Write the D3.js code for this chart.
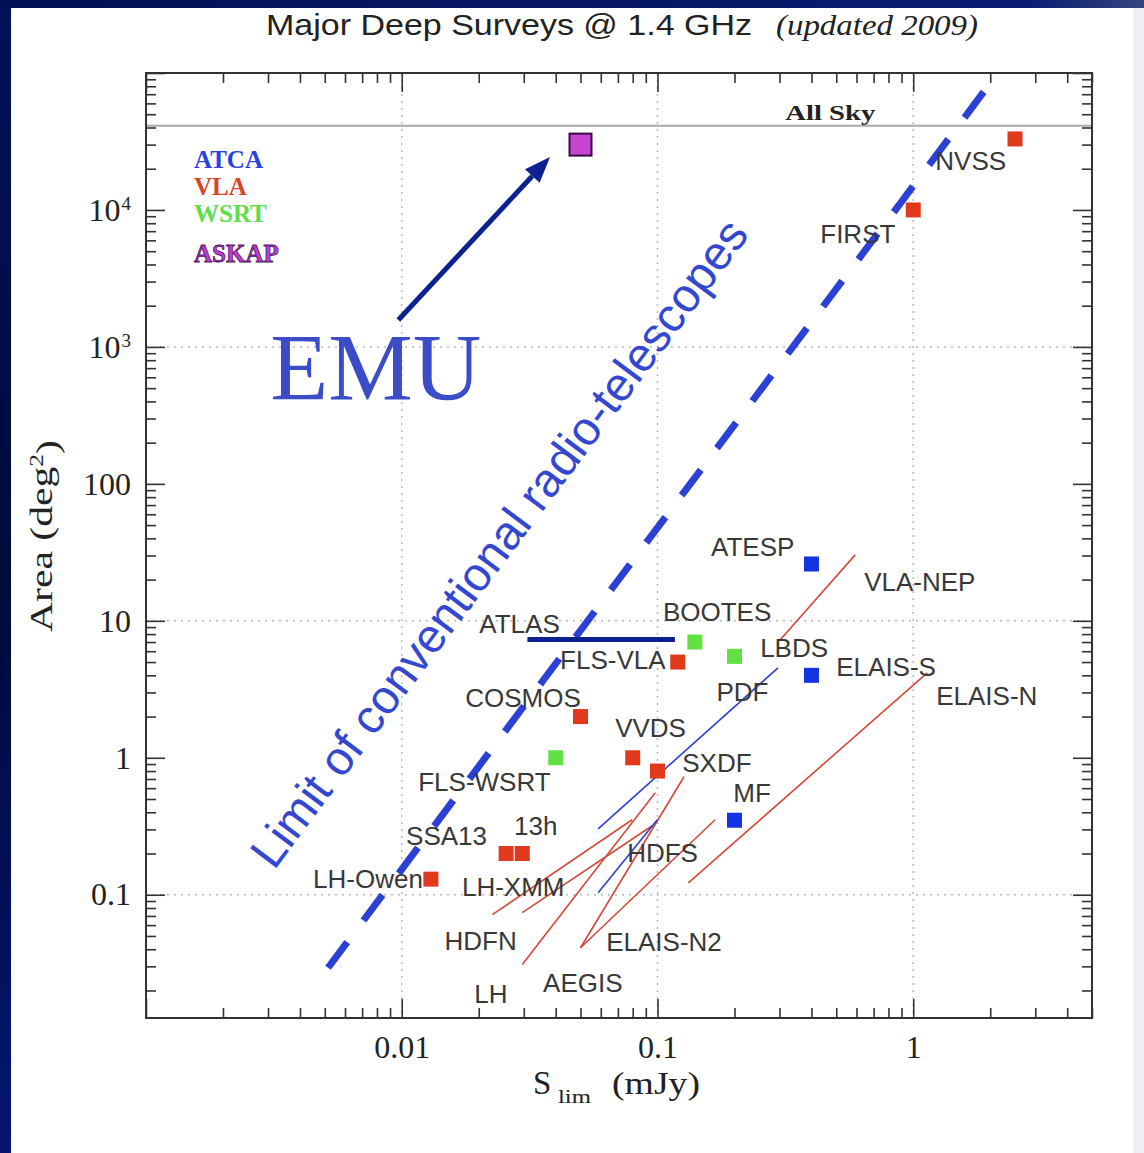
<!DOCTYPE html>
<html>
<head>
<meta charset="utf-8">
<script src="https://cdn.jsdelivr.net/npm/d3@7"></script>
<style>
  html, body { margin: 0; padding: 0; background: #ffffff; }
  svg { display: block; }
</style>
</head>
<body>
<svg id="chart" width="1144" height="1153"></svg>
<script>
// ---- axis ranges -------------------------------------------------------
const sDomain = [0.001, 5];                    // limiting flux, mJy
const areaDomain = [Math.pow(10, -1.9), 1e5];  // survey area, deg^2
const allSkyArea = 41253;

// ---- survey markers (S_lim in mJy, area in deg^2) ----------------------
const atcaSurveys = [
  { name: "ATESP",   S: 0.4, area: 26 },
  { name: "ELAIS-S", S: 0.4, area: 4 },
  { name: "MF",      S: 0.2, area: 0.35 }
];
const vlaSurveys = [
  { name: "NVSS",    S: 2.5,    area: 33000 },
  { name: "FIRST",   S: 1.0,    area: 10000 },
  { name: "FLS-VLA", S: 0.12,   area: 5.0 },
  { name: "COSMOS",  S: 0.05,   area: 2.0 },
  { name: "VVDS",    S: 0.08,   area: 1.0 },
  { name: "SXDF",    S: 0.1,    area: 0.8 },
  { name: "LH-Owen", S: 0.013,  area: 0.13 },
  { name: "SSA13",   S: 0.0256, area: 0.2 },
  { name: "13h",     S: 0.0296, area: 0.2 }
];
const wsrtSurveys = [
  { name: "BOOTES",   S: 0.14, area: 7.0 },
  { name: "LBDS",     S: 0.2,  area: 5.5 },
  { name: "FLS-WSRT", S: 0.04, area: 1.0 }
];
const askapSurveys = [
  { name: "EMU", S: 0.05, area: 30000 }
];

// ---- area-vs-depth tracks of multi-depth surveys -----------------------
const vlaTracks = [
  { name: "HDFN",     pts: [[0.0226, 0.0715], [0.0796, 0.353]] },
  { name: "LH-XMM",   pts: [[0.0296, 0.074],  [0.0953, 0.319]] },
  { name: "LH",       pts: [[0.0296, 0.031],  [0.098, 0.555]] },
  { name: "AEGIS",    pts: [[0.05, 0.041],    [0.127, 0.727]] },
  { name: "ELAIS-N2", pts: [[0.05, 0.041],    [0.168, 0.353]] },
  { name: "ELAIS-N",  pts: [[0.132, 0.122],   [1.134, 4.17]] },
  { name: "VLA-NEP",  pts: [[0.302, 7.27],    [0.593, 30.3]] }
];
const atcaTracks = [
  { name: "PDF",  pts: [[0.0586, 0.303],  [0.296, 4.54]] },
  { name: "HDFS", pts: [[0.0586, 0.1035], [0.0998, 0.353]] }
];
const atlasRange = { S: [0.031, 0.117], area: 7.3 };

// limit of conventional radio telescopes (area ~ S^2.5)
const limitLine = [[0.00515, 0.0293], [1.91, 75100]];
// EMU leap arrow
const emuArrow = [[0.0097, 1574], [0.038, 24380]];

// ---- survey name labels (left end of baseline, data coords) -----------
const surveyLabels = [
  ["NVSS", 1.22, 19600], ["FIRST", 0.433, 5740], ["ATESP", 0.162, 29.8],
  ["VLA-NEP", 0.643, 16.6], ["BOOTES", 0.105, 10], ["ATLAS", 0.0201, 8.17],
  ["FLS-VLA", 0.0416, 4.46], ["LBDS", 0.252, 5.46], ["ELAIS-S", 0.5, 3.97],
  ["PDF", 0.17, 2.61], ["ELAIS-N", 1.23, 2.44], ["COSMOS", 0.0177, 2.36],
  ["VVDS", 0.0683, 1.42], ["SXDF", 0.125, 0.79], ["FLS-WSRT", 0.0116, 0.574],
  ["MF", 0.198, 0.477], ["SSA13", 0.0104, 0.232], ["13h", 0.0275, 0.274],
  ["HDFS", 0.0761, 0.174], ["LH-Owen", 0.0045, 0.1125], ["LH-XMM", 0.0172, 0.0984],
  ["HDFN", 0.0147, 0.0397], ["ELAIS-N2", 0.063, 0.039], ["AEGIS", 0.0357, 0.0196],
  ["LH", 0.0192, 0.0163]
];

// ---- tick labels -------------------------------------------------------
const xTickLabels = [0.01, 0.1, 1];
const yTickLabels = [0.1, 1, 10, 100, 1000, 10000];
const yTickText = { 0.1: ["0.1"], 1: ["1"], 10: ["10"], 100: ["100"], 1000: ["10", "3"], 10000: ["10", "4"] };

// ---- legend ------------------------------------------------------------
const legendItems = ["ATCA", "VLA", "WSRT", "ASKAP"];

// =======================================================================
const W = 1144, H = 1153;
const plot = { left: 146, right: 1092, top: 73, bottom: 1018 };

const colors = {
  ATCA: "#1434e4", VLA: "#e0391c", WSRT: "#62e044", ASKAP: "#c845d4",
  track: "#d2493a", trackBlue: "#2c3fd2", atlas: "#0c1f8c",
  limit: "#2b41d6", text: "#383838", axis: "#333333", grid: "#b8b8b8"
};
const legendColors = { ATCA: "#2a40e0", VLA: "#d8432c", WSRT: "#5ede4a", ASKAP: "#c43cd0" };

const serif = "'Liberation Serif', 'DejaVu Serif', serif";
const sans = "'Liberation Sans', Arial, Helvetica, sans-serif";

const x = d3.scaleLog().domain(sDomain).range([plot.left, plot.right]);
const y = d3.scaleLog().domain(areaDomain).range([plot.bottom, plot.top]);

const svg = d3.select("#chart");

// slide backdrop: navy rim on the left and top
const defs = svg.append("defs");
const gl = defs.append("linearGradient").attr("id", "rimLeft").attr("x1", 0).attr("y1", 0).attr("x2", 0).attr("y2", 1);
gl.append("stop").attr("offset", "0%").attr("stop-color", "#03125a");
gl.append("stop").attr("offset", "50%").attr("stop-color", "#000a3a");
gl.append("stop").attr("offset", "100%").attr("stop-color", "#051570");
const gt = defs.append("linearGradient").attr("id", "rimTop").attr("x1", 0).attr("y1", 0).attr("x2", 1).attr("y2", 0);
gt.append("stop").attr("offset", "0%").attr("stop-color", "#021054");
gt.append("stop").attr("offset", "90%").attr("stop-color", "#0a1c72");
gt.append("stop").attr("offset", "100%").attr("stop-color", "#33447e");

svg.append("rect").attr("width", W).attr("height", H).attr("fill", "#ffffff");
svg.append("rect").attr("x", 0).attr("y", 0).attr("width", 11).attr("height", H).attr("fill", "url(#rimLeft)");
svg.append("rect").attr("x", 0).attr("y", 0).attr("width", W).attr("height", 8).attr("fill", "url(#rimTop)");
svg.append("rect").attr("x", 1133).attr("y", 8).attr("width", 11).attr("height", H - 8).attr("fill", "#eef0f5");

// ---- title -------------------------------------------------------------
svg.append("text")
  .attr("x", 266).attr("y", 35)
  .attr("font-family", sans).attr("font-size", 29)
  .attr("fill", "#222")
  .attr("textLength", 486).attr("lengthAdjust", "spacingAndGlyphs")
  .text("Major Deep Surveys @ 1.4 GHz");
svg.append("text")
  .attr("x", 776).attr("y", 35)
  .attr("font-family", serif).attr("font-style", "italic").attr("font-size", 30)
  .attr("fill", "#222")
  .attr("textLength", 202).attr("lengthAdjust", "spacingAndGlyphs")
  .text("(updated 2009)");

// ---- grid --------------------------------------------------------------
const gridG = svg.append("g").attr("stroke", colors.grid).attr("stroke-width", 1.5).attr("stroke-dasharray", "2,5");
gridG.selectAll("line.gx").data([0.01, 0.1, 1]).join("line")
  .attr("x1", d => x(d)).attr("x2", d => x(d))
  .attr("y1", plot.top).attr("y2", plot.bottom);
gridG.selectAll("line.gy").data([0.1, 10, 1000]).join("line")
  .attr("y1", d => y(d)).attr("y2", d => y(d))
  .attr("x1", plot.left).attr("x2", plot.right);

// All Sky level
svg.append("line")
  .attr("x1", plot.left).attr("x2", plot.right)
  .attr("y1", y(allSkyArea)).attr("y2", y(allSkyArea))
  .attr("stroke", "#a8a8a8").attr("stroke-width", 2);
svg.append("text")
  .attr("x", x(0.316)).attr("y", y(allSkyArea) - 6)
  .attr("font-family", serif).attr("font-weight", "bold").attr("font-size", 21)
  .attr("fill", "#222")
  .attr("textLength", 90).attr("lengthAdjust", "spacingAndGlyphs")
  .text("All Sky");

// ---- ticks on all four sides -------------------------------------------
function decadeTicks(lo, hi) {
  const major = [], minor = [];
  for (let e = Math.floor(Math.log10(lo)); e <= Math.ceil(Math.log10(hi)); e++) {
    for (let k = 1; k <= 9; k++) {
      const v = k * Math.pow(10, e);
      if (v < lo * 0.999 || v > hi * 1.001) continue;
      (k === 1 ? major : minor).push(v);
    }
  }
  return { major, minor };
}
const xt = decadeTicks(sDomain[0], sDomain[1]);
const yt = decadeTicks(areaDomain[0], areaDomain[1]);

function tickRow(axisFn, scale, values, len, tx, ty) {
  const g = svg.append("g").attr("transform", `translate(${tx},${ty})`)
    .call(axisFn(scale).tickValues(values).tickSize(-len).tickFormat(""));
  g.select(".domain").remove();
  g.selectAll("line").attr("stroke", colors.axis).attr("stroke-width", 1.6);
}
tickRow(d3.axisBottom, x, xt.major, 19, 0, plot.bottom);
tickRow(d3.axisBottom, x, xt.minor, 10, 0, plot.bottom);
tickRow(d3.axisTop, x, xt.major, 19, 0, plot.top);
tickRow(d3.axisTop, x, xt.minor, 10, 0, plot.top);
tickRow(d3.axisLeft, y, yt.major, 19, plot.left, 0);
tickRow(d3.axisLeft, y, yt.minor, 10, plot.left, 0);
tickRow(d3.axisRight, y, yt.major, 19, plot.right, 0);
tickRow(d3.axisRight, y, yt.minor, 10, plot.right, 0);

// frame
svg.append("rect")
  .attr("x", plot.left).attr("y", plot.top)
  .attr("width", plot.right - plot.left).attr("height", plot.bottom - plot.top)
  .attr("fill", "none").attr("stroke", colors.axis).attr("stroke-width", 2);

// tick labels
const xLab = svg.append("g").attr("transform", `translate(0,${plot.bottom})`)
  .call(d3.axisBottom(x).tickValues(xTickLabels).tickSize(0).tickPadding(17).tickFormat(d => String(d)));
xLab.select(".domain").remove();
xLab.attr("font-family", serif).attr("font-size", 32);
xLab.selectAll("text").attr("fill", "#222");

const yLab = svg.append("g").attr("transform", `translate(${plot.left},0)`)
  .call(d3.axisLeft(y).tickValues(yTickLabels).tickSize(0).tickPadding(15).tickFormat(""));
yLab.select(".domain").remove();
yLab.attr("font-family", serif).attr("font-size", 32);
yLab.selectAll("text").attr("fill", "#222").each(function (d) {
  const parts = yTickText[d];
  const t = d3.select(this);
  t.text(null);
  t.append("tspan").text(parts[0]);
  if (parts[1]) {
    t.append("tspan").attr("dy", "-0.55em").attr("dx", "1").attr("font-size", 19).text(parts[1]);
  }
});

// axis titles
const yTitle = svg.append("text")
  .attr("transform", "translate(52,536) rotate(-90)")
  .attr("text-anchor", "middle")
  .attr("font-family", serif).attr("font-size", 31).attr("fill", "#222")
  .attr("textLength", 192).attr("lengthAdjust", "spacingAndGlyphs");
yTitle.append("tspan").text("Area  (deg");
yTitle.append("tspan").attr("dy", "-0.5em").attr("font-size", 19).text("2");
yTitle.append("tspan").attr("dy", "0.5em").text(")");

svg.append("text").attr("x", 533).attr("y", 1094)
  .attr("font-family", serif).attr("font-size", 33).attr("fill", "#222").text("S");
svg.append("text").attr("x", 558).attr("y", 1103)
  .attr("font-family", serif).attr("font-size", 18).attr("fill", "#222")
  .attr("textLength", 33).attr("lengthAdjust", "spacingAndGlyphs").text("lim");
svg.append("text").attr("x", 612).attr("y", 1094)
  .attr("font-family", serif).attr("font-size", 32).attr("fill", "#222")
  .attr("textLength", 88).attr("lengthAdjust", "spacingAndGlyphs").text("(mJy)");

// ---- data layer --------------------------------------------------------
const dataG = svg.append("g");
const line = d3.line().x(d => x(d[0])).y(d => y(d[1]));

// limit of conventional telescopes: heavy dashed line
dataG.append("path")
  .attr("d", line(limitLine))
  .attr("fill", "none").attr("stroke", colors.limit)
  .attr("stroke-width", 7).attr("stroke-dasharray", "32,27");

// survey tracks
dataG.selectAll("path.vtrack").data(vlaTracks).join("path")
  .attr("class", "vtrack")
  .attr("d", d => line(d.pts))
  .attr("fill", "none").attr("stroke", colors.track).attr("stroke-width", 1.6);
dataG.selectAll("path.atrack").data(atcaTracks).join("path")
  .attr("class", "atrack")
  .attr("d", d => line(d.pts))
  .attr("fill", "none").attr("stroke", colors.trackBlue).attr("stroke-width", 1.6);

// ATLAS depth range
dataG.append("line")
  .attr("x1", x(atlasRange.S[0])).attr("x2", x(atlasRange.S[1]))
  .attr("y1", y(atlasRange.area)).attr("y2", y(atlasRange.area))
  .attr("stroke", colors.atlas).attr("stroke-width", 5);

// survey names
dataG.selectAll("text.sl").data(surveyLabels).join("text")
  .attr("class", "sl")
  .attr("x", d => x(d[1])).attr("y", d => y(d[2]))
  .attr("font-family", sans).attr("font-size", 26)
  .attr("fill", colors.text)
  .text(d => d[0]);

// square markers
const sq = 15;
function squares(data, fill) {
  dataG.append("g").selectAll("rect").data(data).join("rect")
    .attr("x", d => x(d.S) - sq / 2).attr("y", d => y(d.area) - sq / 2)
    .attr("width", sq).attr("height", sq)
    .attr("fill", fill);
}
squares(atcaSurveys, colors.ATCA);
squares(vlaSurveys, colors.VLA);
squares(wsrtSurveys, colors.WSRT);

const ask = 22;
dataG.append("g").selectAll("rect").data(askapSurveys).join("rect")
  .attr("x", d => x(d.S) - ask / 2).attr("y", d => y(d.area) - ask / 2)
  .attr("width", ask).attr("height", ask)
  .attr("fill", colors.ASKAP).attr("stroke", "#3a0c44").attr("stroke-width", 2);

// EMU arrow
{
  const [p0, p1] = emuArrow.map(d => [x(d[0]), y(d[1])]);
  const ang = Math.atan2(p1[1] - p0[1], p1[0] - p0[0]);
  const headLen = 26, headW = 10;
  const bx = p1[0] - headLen * Math.cos(ang), by = p1[1] - headLen * Math.sin(ang);
  dataG.append("line")
    .attr("x1", p0[0]).attr("y1", p0[1]).attr("x2", bx).attr("y2", by)
    .attr("stroke", "#0d2290").attr("stroke-width", 5);
  const nx = -Math.sin(ang), ny = Math.cos(ang);
  dataG.append("polygon")
    .attr("points", [
      [p1[0], p1[1]],
      [bx + nx * headW, by + ny * headW],
      [bx - nx * headW, by - ny * headW]
    ].map(p => p.join(",")).join(" "))
    .attr("fill", "#0d2290");
}

// EMU caption
dataG.append("text")
  .attr("x", x(0.00306)).attr("y", y(410))
  .attr("font-family", serif).attr("font-size", 95)
  .attr("fill", "#3a4cc8")
  .text("EMU");

// caption along the limit line
{
  const [a, b] = limitLine.map(d => [x(d[0]), y(d[1])]);
  const deg = Math.atan2(b[1] - a[1], b[0] - a[0]) * 180 / Math.PI;
  const cx = x(0.0270), cy = y(31.4);
  dataG.append("text")
    .attr("transform", `translate(${cx},${cy}) rotate(${deg})`)
    .attr("text-anchor", "middle")
    .attr("font-family", sans).attr("font-size", 47.5)
    .attr("fill", "#3447d0")
    .text("Limit of conventional radio-telescopes");
}

// legend
svg.append("g").selectAll("text").data(legendItems).join("text")
  .attr("x", 194)
  .attr("y", (d, i) => [168, 195, 222, 262][i])
  .attr("font-family", serif).attr("font-weight", "bold").attr("font-size", 25)
  .attr("fill", d => legendColors[d])
  .attr("stroke", d => d === "ASKAP" ? "#4a1258" : "none")
  .attr("stroke-width", 0.8)
  .text(d => d);
</script>
</body>
</html>
